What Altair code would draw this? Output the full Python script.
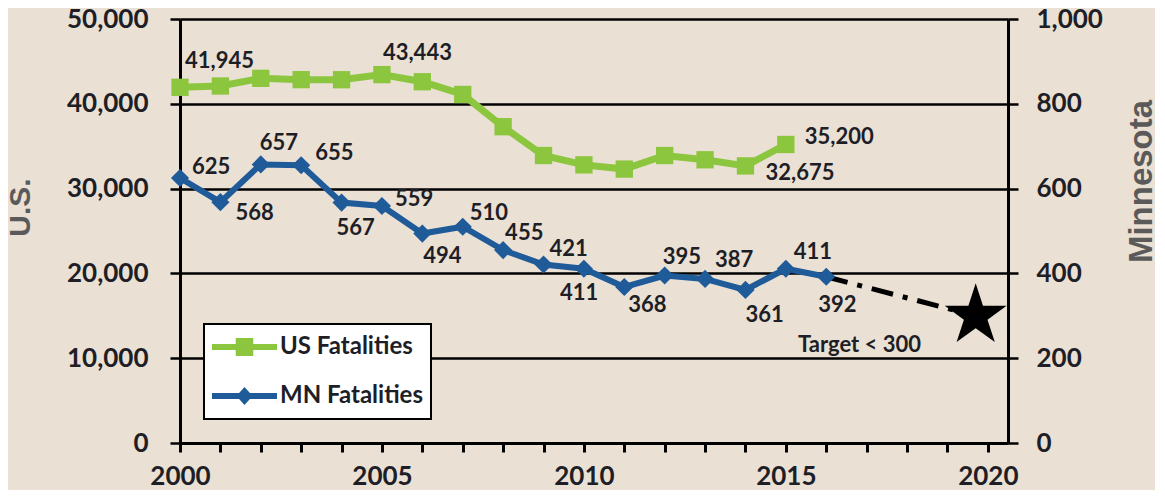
import altair as alt
import pandas as pd

# ---------------- data ----------------
us_years = list(range(2000, 2016))
us_values = [41945, 42100, 43000, 42850, 42840, 43443, 42600, 41100,
             37300, 33900, 32800, 32300, 33900, 33400, 32675, 35200]

mn_years = list(range(2000, 2017))
mn_values = [625, 568, 657, 655, 567, 559, 494, 510, 455, 421, 411,
             368, 395, 387, 361, 411, 392]

us_label_years = [2000, 2005, 2014, 2015]
us_label_text = ["41,945", "43,443", "32,675", "35,200"]

target_years = [2016, 2019.7]
target_values = [392, 300]
target_text = "Target < 300"
target_text_pos = [2015.3, 231]

series = ["US Fatalities", "MN Fatalities"]

# ---------------- layout / style ----------------
W, H = 828, 424
X_DOMAIN = [2000, 2020.5]
PX_PER_YEAR = W / (X_DOMAIN[1] - X_DOMAIN[0])
PX_PER_US = H / 50000
PX_PER_MN = H / 1000

# pixel offsets of value labels (left edge, vertical centre)
us_label_dx = [5, 1, 20, 19]
us_label_dy = [-26, -22, 7, -8]
mn_label_dx = [12, 15, -1, 14, -5, 13, 1, 7, 2, 6, -24, 4, -2, 10, 0, 8, -8]
mn_label_dy = [-11, 11, -21, -12, 25, -7, 22, -14, -17, -15, 24, 18, -19, -19, 25, -17, 28]

BG = "#eae0d4"
GREEN = "#8cc63e"
BLUE = "#1f5b99"
TXT = "#1e1e26"
FONT = "Lato"

STAR_PATH = ("M0,-1L0.2245,-0.309L0.951,-0.309L0.3633,0.118L0.5878,0.809L0,0.382"
             "L-0.5878,0.809L-0.3633,0.118L-0.951,-0.309L-0.2245,-0.309Z")
SQ_PATH = "M-1,-0.09H1V0.09H-1Z M-0.27,-0.28H0.27V0.28H-0.27Z"
DI_PATH = "M-1,-0.09H1V0.09H-1Z M0,-0.28L0.25,0L0,0.28L-0.25,0Z"

us_df = pd.DataFrame({"year": us_years, "us": us_values})
mn_df = pd.DataFrame({"year": mn_years, "mn": mn_values})

us_lab = pd.DataFrame({
    "year": us_label_years,
    "us": [us_values[us_years.index(y)] for y in us_label_years],
    "text": us_label_text,
    "dx": us_label_dx, "dy": us_label_dy,
})
us_lab["lx"] = us_lab["year"] + us_lab["dx"] / PX_PER_YEAR
us_lab["ly"] = us_lab["us"] - us_lab["dy"] / PX_PER_US

mn_lab = pd.DataFrame({
    "year": mn_years, "mn": mn_values,
    "text": [str(v) for v in mn_values],
    "dx": mn_label_dx, "dy": mn_label_dy,
})
mn_lab["lx"] = mn_lab["year"] + mn_lab["dx"] / PX_PER_YEAR
mn_lab["ly"] = mn_lab["mn"] - mn_lab["dy"] / PX_PER_MN

target_df = pd.DataFrame({"year": target_years, "mn": target_values})
star_df = pd.DataFrame({"year": [target_years[-1]], "mn": [target_values[-1]]})
ttext_df = pd.DataFrame({"year": [target_text_pos[0]], "mn": [target_text_pos[1]], "text": [target_text]})

legend_df = pd.DataFrame({"series": series})

# ---------------- encodings ----------------
x_scale = alt.Scale(domain=X_DOMAIN, nice=False, zero=False)
x_axis = alt.Axis(
    values=list(range(2000, 2021)), format="d",
    labelExpr="datum.value % 5 == 0 ? datum.label : ''",
    tickSize=9, tickWidth=3, tickColor="black",
    domainColor="black", domainWidth=3, grid=False,
    labelFont=FONT, labelFontWeight="bold", labelFontSize=26, labelColor=TXT,
    labelPadding=11, title=None, labelFlush=False, labelOverlap=False,
)


def X(field="year:Q"):
    return alt.X(field, scale=x_scale, axis=x_axis)


us_axis = alt.Axis(
    orient="left", values=[0, 10000, 20000, 30000, 40000, 50000], format=",d",
    grid=True, gridColor="black", gridWidth=2.5,
    tickSize=10, tickWidth=2.5, tickColor="black",
    domainColor="black", domainWidth=3,
    labelFont=FONT, labelFontWeight="bold", labelFontSize=26, labelColor=TXT,
    labelPadding=22,
    title="U.S.", titleAngle=270, titleX=-160, titleY=188,
    titleAlign="center", titleBaseline="middle",
    titleFont="Liberation Sans", titleFontWeight="bold", titleFontSize=30,
    titleColor="#5a5a5a",
)
us_scale = alt.Scale(domain=[0, 50000], nice=False, zero=True)

mn_axis = alt.Axis(
    orient="right", values=[0, 200, 400, 600, 800, 1000], format=",d",
    grid=False,
    tickSize=10, tickWidth=2.5, tickColor="black",
    domainColor="black", domainWidth=3,
    labelFont=FONT, labelFontWeight="bold", labelFontSize=26, labelColor=TXT,
    labelPadding=18,
    title="Minnesota", titleAngle=270, titleX=133, titleY=162,
    titleAlign="center", titleBaseline="middle",
    titleFont="Liberation Sans", titleFontWeight="bold", titleFontSize=33,
    titleColor="#5a5a5a",
)
mn_scale = alt.Scale(domain=[0, 1000], nice=False, zero=True)


def YU(field="us:Q"):
    return alt.Y(field, scale=us_scale, axis=us_axis)


def YM(field="mn:Q"):
    return alt.Y(field, scale=mn_scale, axis=mn_axis)


label_style = dict(align="left", baseline="middle", font=FONT,
                   fontWeight="bold", fontSize=22, color=TXT)

# ---------------- US layer ----------------
us_line = alt.Chart(us_df).mark_line(color=GREEN, strokeWidth=7).encode(x=X(), y=YU())
us_pts = alt.Chart(us_df).mark_point(shape="square", filled=True, size=300,
                                     color=GREEN, opacity=1).encode(x=X(), y=YU())
us_txt = alt.Chart(us_lab).mark_text(**label_style).encode(
    x=X("lx:Q"), y=YU("ly:Q"), text="text:N")
us_layer = alt.layer(us_line, us_pts, us_txt)

# ---------------- MN layer ----------------
tgt_line = alt.Chart(target_df).mark_line(
    color="black", strokeWidth=5, strokeDash=[22, 10, 5, 10]
).encode(x=X(), y=YM())
mn_line = alt.Chart(mn_df).mark_line(color=BLUE, strokeWidth=6).encode(x=X(), y=YM())
mn_pts = alt.Chart(mn_df).mark_point(shape="diamond", filled=True, size=330,
                                     color=BLUE, opacity=1).encode(x=X(), y=YM())
mn_txt = alt.Chart(mn_lab).mark_text(**label_style).encode(
    x=X("lx:Q"), y=YM("ly:Q"), text="text:N")
star = alt.Chart(star_df).mark_point(shape=STAR_PATH, filled=True, size=4225,
                                     color="black", opacity=1, strokeWidth=0).encode(x=X(), y=YM())
ttext = alt.Chart(ttext_df).mark_text(**label_style).encode(
    x=X(), y=YM(), text="text:N")
mn_layer = alt.layer(tgt_line, mn_line, mn_pts, mn_txt, star, ttext)

# ---------------- legend (scale-only layer) ----------------
leg = alt.Legend(
    title=None, orient="none", legendX=24, legendY=305,
    fillColor="white", strokeColor="black", padding=8,
    clipHeight=30, rowPadding=19, labelOffset=3,
    symbolSize=4225, symbolStrokeWidth=0, symbolOpacity=1,
    labelFont=FONT, labelFontWeight="bold", labelFontSize=24, labelColor=TXT,
)
legend_layer = alt.Chart(legend_df).mark_point(filled=True).encode(
    color=alt.Color("series:N", scale=alt.Scale(domain=series, range=[GREEN, BLUE]), legend=leg),
    shape=alt.Shape("series:N", scale=alt.Scale(domain=series, range=[SQ_PATH, DI_PATH]), legend=leg),
).transform_filter("false")

chart = alt.layer(us_layer, mn_layer, legend_layer).resolve_scale(
    y="independent"
).properties(
    width=W, height=H,
    autosize=alt.AutoSizeParams(type="none"),
    padding={"left": 172, "top": 11, "right": 147, "bottom": 47},
    background=BG,
).configure_view(stroke=None).configure_legend(strokeWidth=2)

chart.save("out.html", embed_options={"renderer": "svg", "actions": False})
